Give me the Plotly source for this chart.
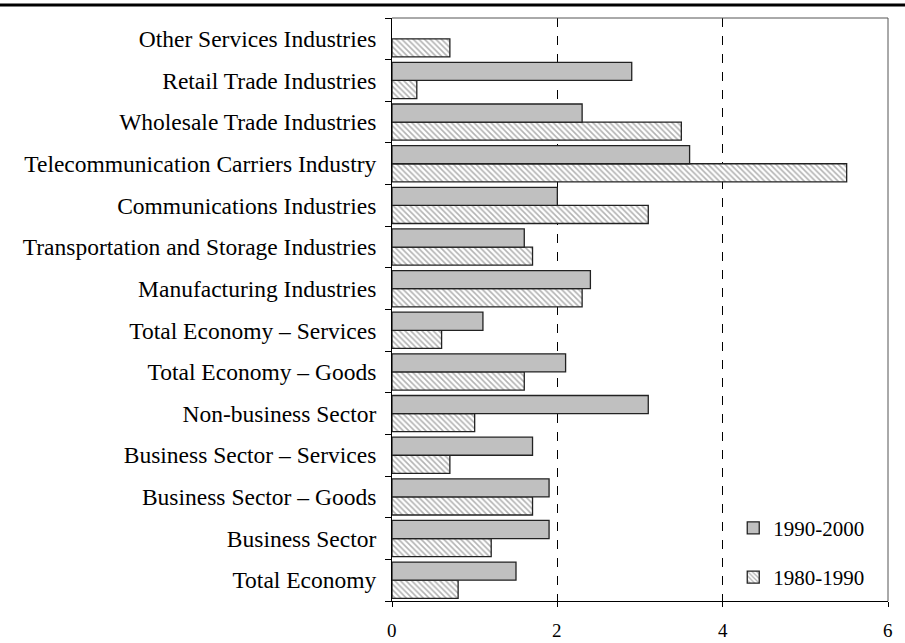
import plotly.graph_objects as go

categories = [
    "Total Economy",
    "Business Sector",
    "Business Sector – Goods",
    "Business Sector – Services",
    "Non-business Sector",
    "Total Economy – Goods",
    "Total Economy – Services",
    "Manufacturing Industries",
    "Transportation and Storage Industries",
    "Communications Industries",
    "Telecommunication Carriers Industry",
    "Wholesale Trade Industries",
    "Retail Trade Industries",
    "Other Services Industries",
]
growth_1990_2000 = [1.5, 1.9, 1.9, 1.7, 3.1, 2.1, 1.1, 2.4, 1.6, 2.0, 3.6, 2.3, 2.9, None]
growth_1980_1990 = [0.8, 1.2, 1.7, 0.7, 1.0, 1.6, 0.6, 2.3, 1.7, 3.1, 5.5, 3.5, 0.3, 0.7]
x_ticks = [0, 2, 4, 6]

FONT = "Liberation Serif, Times New Roman, serif"

fig = go.Figure()
fig.add_trace(go.Bar(
    y=categories, x=growth_1980_1990, orientation="h", name="1980-1990",
    legendgroup="a", legendrank=2,
    marker=dict(color="white", line=dict(color="#222", width=1.3),
                pattern=dict(shape="\\", fgcolor="#666", bgcolor="white",
                             size=4, solidity=0.4)),
))
fig.add_trace(go.Bar(
    y=categories, x=growth_1990_2000, orientation="h", name="1990-2000",
    legendgroup="b", legendrank=1,
    marker=dict(color="#C0C0C0", line=dict(color="#222", width=1.3)),
))

# thick rule across the top of the page
fig.add_shape(type="line", xref="paper", yref="paper",
              x0=-392 / 496, x1=(905 - 392) / 496,
              y0=1 + 13 / 583, y1=1 + 13 / 583,
              line=dict(color="black", width=3))
# top and right frame lines
fig.add_shape(type="line", xref="x domain", yref="y domain",
              x0=0, x1=1, y0=1, y1=1, line=dict(color="#555", width=1))
fig.add_shape(type="line", xref="x domain", yref="y domain",
              x0=1, x1=1, y0=0, y1=1, line=dict(color="#555", width=1))

# x tick labels set well below the axis
for v in x_ticks:
    fig.add_annotation(x=v, y=-29 / 583, xref="x", yref="paper",
                       text=str(v), showarrow=False, yanchor="middle",
                       font=dict(family=FONT, size=19, color="black"))

fig.update_layout(
    width=905, height=643,
    margin=dict(l=392, r=17, t=18, b=42),
    paper_bgcolor="white", plot_bgcolor="white",
    barmode="group", bargap=0.13, bargroupgap=0,
    font=dict(family=FONT, size=23.5, color="black"),
    showlegend=True,
    legend=dict(x=0.688, y=0.160, xanchor="left", yanchor="top",
                traceorder="grouped", bgcolor="rgba(0,0,0,0)",
                font=dict(family=FONT, size=21, color="black"), itemwidth=30,
                tracegroupgap=19),
    xaxis=dict(range=[0, 6], tickvals=x_ticks, ticks="outside", ticklen=5,
               tickcolor="black", showline=True, linecolor="black",
               showgrid=True, gridcolor="black", griddash="dash", gridwidth=1,
               zeroline=False, showticklabels=False),
    yaxis=dict(ticks="outside", ticklen=6, tickcolor="black",
               tickson="boundaries", showline=True, linecolor="black",
               showgrid=False, ticklabelstandoff=10,
               tickfont=dict(family=FONT, size=23.5, color="black")),
)

fig.write_html("out.html")
